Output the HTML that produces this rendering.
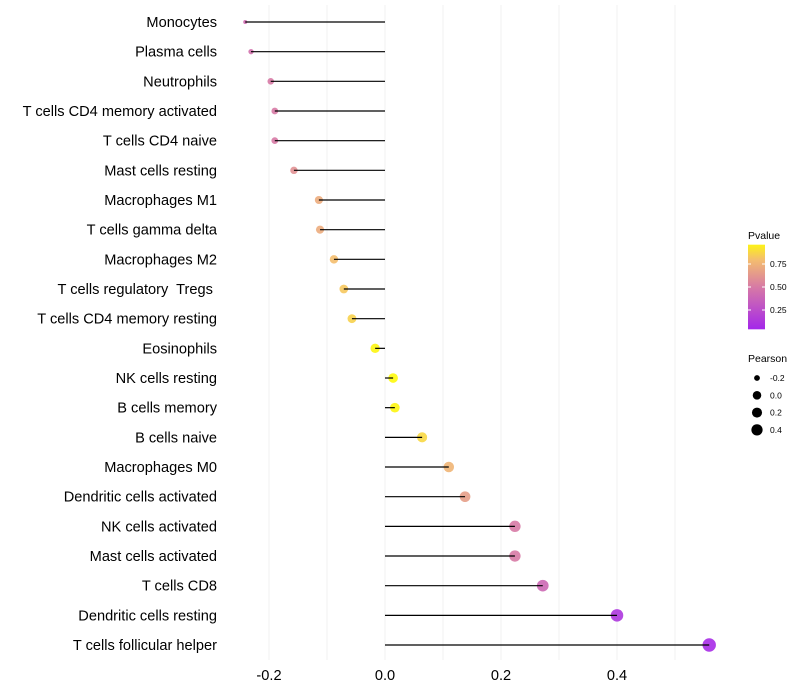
<!DOCTYPE html>
<html><head><meta charset="utf-8"><style>
body{margin:0;background:#fff;font-family:"Liberation Sans",sans-serif}
svg{display:block}
text{white-space:pre}
</style></head><body>
<svg id="chart" width="800" height="700"></svg>
<script>
const categories=["Monocytes","Plasma cells","Neutrophils","T cells CD4 memory activated","T cells CD4 naive","Mast cells resting","Macrophages M1","T cells gamma delta","Macrophages M2","T cells regulatory  Tregs ","T cells CD4 memory resting","Eosinophils","NK cells resting","B cells memory","B cells naive","Macrophages M0","Dendritic cells activated","NK cells activated","Mast cells activated","T cells CD8","Dendritic cells resting","T cells follicular helper"];
const pearson=[-0.241,-0.231,-0.197,-0.19,-0.19,-0.157,-0.114,-0.112,-0.088,-0.071,-0.057,-0.017,0.014,0.017,0.064,0.110,0.138,0.224,0.224,0.272,0.40,0.559];
const pvalues=[0.42,0.45,0.5,0.5,0.5,0.6,0.72,0.72,0.8,0.83,0.86,0.97,0.98,0.97,0.88,0.76,0.66,0.5,0.5,0.4,0.12,0.06];
const xTicks=[-0.2,0,0.2,0.4];
const xTickLabels=["-0.2","0.0","0.2","0.4"];
const xGrid=[-0.2,-0.1,0,0.1,0.2,0.3,0.4,0.5];
const cbTicks=[0.25,0.5,0.75];
const sizeKeys=[-0.2,0,0.2,0.4];

const NS="http://www.w3.org/2000/svg";
const svg=document.getElementById("chart");
function el(t,a,p){const e=document.createElementNS(NS,t);for(const k in a)e.setAttribute(k,a[k]);(p||svg).appendChild(e);return e;}
const x=v=>385+v*580;
const y=i=>22+i*29.667;
const r=v=>2+4.7*Math.pow(Math.max(0,(v+0.241)/0.8),0.45);
const stops=[[0,[160,32,240]],[0.5,[215,122,165]],[0.8,[244,190,110]],[1,[255,255,0]]];
function col(p){for(let i=1;i<stops.length;i++){if(p<=stops[i][0]){const a=stops[i-1],b=stops[i],t=(p-a[0])/(b[0]-a[0]);return "rgb("+a[1].map((c,j)=>Math.round(c+(b[1][j]-c)*t)).join(",")+")";}}return "rgb(255,255,0)";}

xGrid.forEach(g=>{const l=el("line",{x1:x(g),x2:x(g),y1:5,y2:660,stroke:"#f0f0f0","stroke-width":1});

});
xTicks.forEach((t,i)=>{const tx=el("text",{x:x(t),y:680,"text-anchor":"middle","font-size":14.6,fill:"#000"});tx.textContent=xTickLabels[i];

});
categories.forEach((c,i)=>{
const tx=el("text",{x:217,y:y(i)+5,"text-anchor":"end","font-size":14.6,fill:"#000"});tx.textContent=c;


const pt=el("circle",{cx:x(pearson[i]),cy:y(i),r:r(pearson[i]),fill:col(pvalues[i]),"fill-opacity":0.9});


const ln=el("line",{x1:x(0),x2:x(pearson[i]),y1:y(i),y2:y(i),stroke:"#000","stroke-width":1.2});


});
// legend
const lg=el("g",{});


const t1=el("text",{x:748,y:239,"font-size":10.5},lg);t1.textContent="Pvalue";
const defs=el("defs",{});const gr=el("linearGradient",{id:"cg",x1:0,y1:1,x2:0,y2:0},defs);
[[0,0.04],[0.5,0.5],[0.8,0.8],[1,0.96]].forEach(s=>el("stop",{offset:((s[1]-0.04)/0.92),"stop-color":col(s[1])},gr));
const cy=p=>333-p*92;
const cb=el("rect",{x:748,y:cy(0.96),width:17,height:cy(0.04)-cy(0.96),fill:"url(#cg)"},lg);


cbTicks.forEach(t=>{el("line",{x1:748,x2:751,y1:cy(t),y2:cy(t),stroke:"#fff"},lg);el("line",{x1:762,x2:765,y1:cy(t),y2:cy(t),stroke:"#fff"},lg);
const tx=el("text",{x:770,y:cy(t)+3,"font-size":8.5},lg);tx.textContent=t.toFixed(2);});
const t2=el("text",{x:748,y:362,"font-size":10.5},lg);t2.textContent="Pearson";
sizeKeys.forEach((s,i)=>{const yy=378+i*17.3;el("circle",{cx:757,cy:yy,r:r(s)*0.9,fill:"#000"},lg);
const tx=el("text",{x:770,y:yy+3,"font-size":8.5},lg);tx.textContent=s.toFixed(1);

});
</script>
</body></html>
